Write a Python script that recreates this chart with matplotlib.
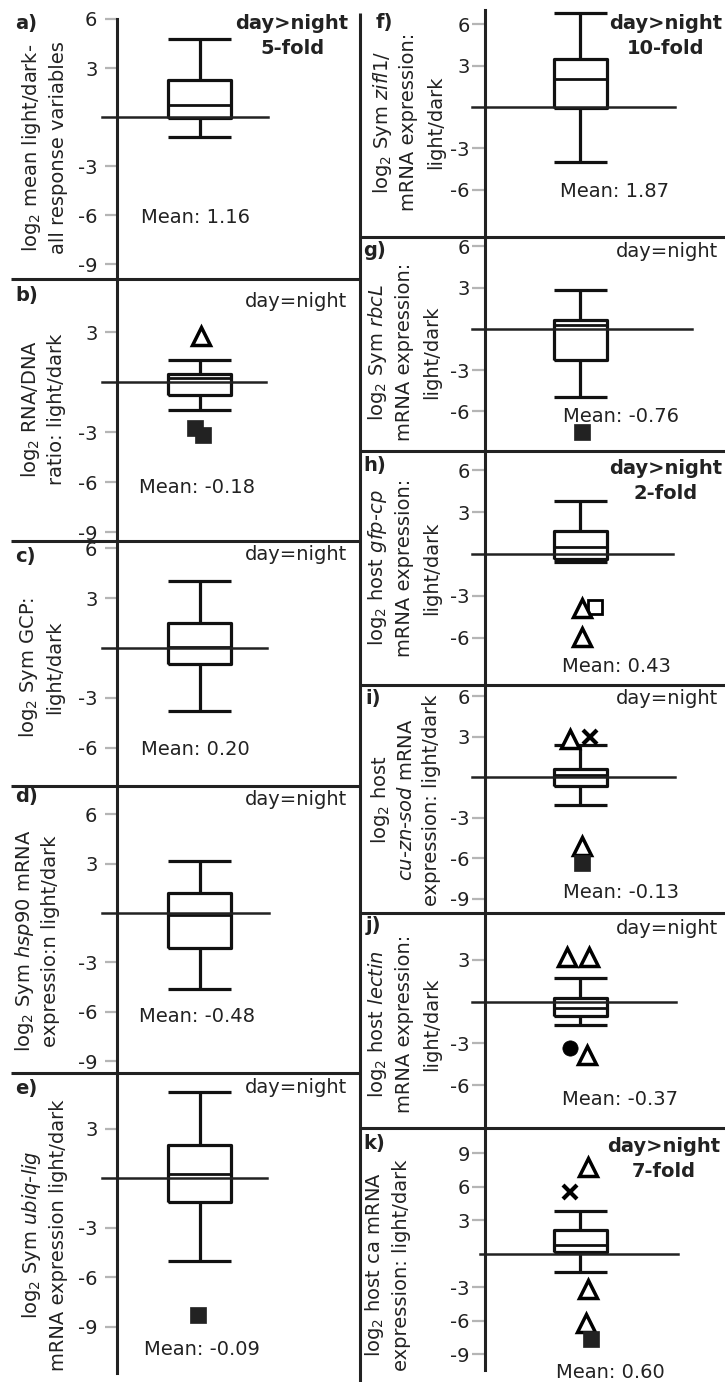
import matplotlib
matplotlib.use('Agg')
import matplotlib.pyplot as plt
from matplotlib.lines import Line2D

plt.rcParams['font.family'] = ['DejaVu Sans']
plt.rcParams['axes.unicode_minus'] = False
plt.rcParams['mathtext.fontset'] = 'dejavusans'

# ---------------- data ----------------
panels = ['a', 'b', 'c', 'd', 'e', 'f', 'g', 'h', 'i', 'j', 'k']
whishi = [4.75, 1.32, 4.04, 3.15, 5.2, 6.8, 2.8, 3.76, 2.4, 1.73, 3.79]
q3 = [2.3, 0.46, 1.51, 1.21, 2.0, 3.5, 0.62, 1.61, 0.6, 0.29, 2.09]
medians = [0.73, 0.26, 0.06, -0.1, 0.22, 2.04, 0.31, 0.48, 0.16, -0.45, 0.75]
q1 = [-0.05, -0.78, -0.96, -2.12, -1.44, -0.07, -2.3, -0.36, -0.6, -1.03, 0.15]
whislo = [-1.2, -1.68, -3.8, -4.6, -5.0, -4.0, -4.93, -0.6, -2.04, -1.68, -1.65]
mean_labels = ['1.16', '-0.18', '0.20', '-0.48', '-0.09', '1.87', '-0.76',
               '0.43', '-0.13', '-0.37', '0.60']
outlier_values = [[], [2.76, -2.73, -3.18], [], [], [-8.3], [], [-7.54],
                  [-3.8, -3.87, -5.95], [2.84, 3.0, -5.1, -6.35],
                  [3.24, 3.24, -3.3, -3.83], [7.76, 5.51, -3.21, -6.2, -7.69]]
outlier_kinds = [[], ['tri', 'sq', 'sq'], [], [], ['sq'], [], ['sq'],
                 ['osq', 'tri', 'tri'], ['tri', 'x', 'tri', 'sq'],
                 ['tri', 'tri', 'dot', 'tri'], ['tri', 'x', 'tri', 'tri', 'sq']]
verdicts = ['day>night\n5-fold', 'day=night', 'day=night', 'day=night', 'day=night',
            'day>night\n10-fold', 'day=night', 'day>night\n2-fold', 'day=night',
            'day=night', 'day>night\n7-fold']
ylabels = [
    'log$_2$ mean light/dark-\nall response variables',
    'log$_2$ RNA/DNA\nratio: light/dark',
    'log$_2$ Sym GCP:\nlight/dark',
    'log$_2$ Sym $\\mathit{hsp90}$ mRNA\nexpressio:n light/dark',
    'log$_2$ Sym $\\mathit{ubiq}$-$\\mathit{lig}$\nmRNA expression light/dark',
    'log$_2$ Sym $\\mathit{zifl1}$/\nmRNA expression:\nlight/dark',
    'log$_2$ Sym $\\mathit{rbcL}$\nmRNA expression:\nlight/dark',
    'log$_2$ host $\\mathit{gfp}$-$\\mathit{cp}$\nmRNA expression:\nlight/dark',
    'log$_2$ host\n$\\mathit{cu}$-$\\mathit{zn}$-$\\mathit{sod}$ mRNA\nexpression: light/dark',
    'log$_2$ host $\\mathit{lectin}$\nmRNA expression:\nlight/dark',
    'log$_2$ host ca mRNA\nexpression: light/dark',
]
ytick_values = [[6, 3, -3, -6, -9], [3, -3, -6, -9], [6, 3, -3, -6],
                [6, 3, -3, -6, -9], [3, -3, -6, -9], [6, 3, -3, -6],
                [6, 3, -3, -6], [6, 3, -3, -6], [6, 3, -3, -6, -9],
                [3, -3, -6], [9, 6, 3, -3, -6, -9]]

# ---------------- layout (pixels) ----------------
W, H, DPI = 725, 1382, 100
panel_col = [0, 0, 0, 0, 0, 1, 1, 1, 1, 1, 1]
panel_top = [19, 279, 541, 786, 1073, 10, 237, 451, 685, 913, 1128]
panel_bot = [279, 541, 786, 1073, 1373, 237, 451, 685, 913, 1128, 1370]
panel_ylim = [(-9.9, 6.0), (-9.54, 6.18), (-8.31, 6.45), (-9.7, 7.7), (-11.8, 6.36),
              (-9.45, 7.05), (-8.89, 6.69), (-9.4, 7.38), (-10.04, 6.85),
              (-9.09, 6.38), (-10.43, 11.24)]
col_x0 = [116.5, 485]
col_x1 = [359, 725]
box_cx = [199.6, 580.3]
box_w = [63, 53.3]
zero_x0 = [102, 102, 102, 102, 102, 472, 472, 472, 472, 472, 480]
zero_x1 = [268, 266, 267, 269, 267, 675, 692, 673, 675, 676, 678]
outlier_dx = [[], [1, -5, 3.4], [], [], [-2], [], [1.5], [15, 2, 2],
              [-10, 10, 2, 2], [-13, 9, -10, 7], [8, -10, 8, 6, 11]]
letter_xy = [(15, 14), (15, 286), (15, 547), (15, 787), (15, 1079),
             (376, 13), (363, 241), (363, 456), (365, 689), (366, 916), (363, 1134)]
ylabel_xy = [(45, 148), (44, 409), (42, 667), (38, 941), (45, 1235),
             (409, 122), (405, 352), (405, 568), (406, 800), (405, 1024), (388, 1265)]
ylabel_step = [27, 26, 26, 26, 27, 27, 27, 27, 26, 27, 26]
mean_xy = [(196, 223), (197, 493), (195, 755), (197, 1022), (202, 1355),
           (615, 197), (621, 422), (616, 672), (621, 898), (620, 1105), (610, 1378)]
verdict_right = [347, 718]
verdict_bold_xy = [(292, 14), None, None, None, None, (666, 14), None, (666, 459),
                   None, None, (664, 1137)]
verdict_plain_y = [None, 307, 560, 805, 1093, None, 257, None, 704, 934, None]
tick_len = [8.3, 9.5]
tick_pad = [5.4, 1.5]

FS = 14
LW = 2.3


def fx(px):
    return px / W


def fy(py):
    return 1 - py / H


marker_style = {
    'tri': dict(marker='^', ms=13.5, mfc='white', mec='black', mew=2.5),
    'sq': dict(marker='s', ms=11.5, mfc='#222222', mec='#222222', mew=0.5),
    'osq': dict(marker='s', ms=10, mfc='white', mec='black', mew=2.0),
    'x': dict(marker='x', ms=10, mec='black', mew=3.0),
    'dot': dict(marker='o', ms=11, mfc='black', mec='black', mew=0.5),
}

fig = plt.figure(figsize=(W / DPI, H / DPI), dpi=DPI)

for i, p in enumerate(panels):
    c = panel_col[i]
    x0, x1 = col_x0[c], col_x1[c]
    top, bot = panel_top[i], panel_bot[i]
    ax = fig.add_axes([fx(x0), fy(bot), fx(x1 - x0), (bot - top) / H])
    ax.set_xlim(x0, x1)
    ax.set_ylim(*panel_ylim[i])
    ax.patch.set_alpha(0)
    for s in ['top', 'right', 'bottom']:
        ax.spines[s].set_visible(False)
    ax.spines['left'].set_linewidth(2.2)
    ax.spines['left'].set_color('#222222')
    ax.xaxis.set_visible(False)
    ax.set_yticks(ytick_values[i])
    ax.set_yticklabels([str(v) for v in ytick_values[i]])
    ax.tick_params(axis='y', direction='out', length=tick_len[c], width=1.6,
                   color='#b5b5b5', pad=tick_pad[c], labelsize=FS, labelcolor='#222222')

    stats = [dict(med=medians[i], q1=q1[i], q3=q3[i], whislo=whislo[i],
                  whishi=whishi[i], fliers=[])]
    lp = dict(color='#111111', linewidth=LW, solid_capstyle='butt')
    ax.bxp(stats, positions=[box_cx[c]], widths=[box_w[c]], capwidths=[box_w[c]],
           showfliers=False, manage_ticks=False,
           boxprops=lp, whiskerprops=lp, capprops=lp,
           medianprops=dict(color='#111111', linewidth=2.0))
    ax.plot([zero_x0[i], zero_x1[i]], [0, 0], color='#222222', lw=1.8,
            clip_on=False, zorder=3)

    for v, k, dx in zip(outlier_values[i], outlier_kinds[i], outlier_dx[i]):
        ax.plot([box_cx[c] + dx], [v], linestyle='none', clip_on=False,
                zorder=5, **marker_style[k])

    # texts
    lx, ly = letter_xy[i]
    fig.text(fx(lx), fy(ly), p + ')', fontsize=FS, fontweight='bold',
             ha='left', va='top', color='#222222')
    yx, yy = ylabel_xy[i]
    lines = ylabels[i].split('\n')
    n = len(lines)
    for j, line in enumerate(lines):
        lxj = yx + (j - (n - 1) / 2) * ylabel_step[i]
        fig.text(fx(lxj), fy(yy), line, fontsize=FS, rotation=90,
                 ha='center', va='center', color='#222222')
    mx, my = mean_xy[i]
    fig.text(fx(mx), fy(my), 'Mean: ' + mean_labels[i], fontsize=FS,
             ha='center', va='baseline', color='#222222')
    if verdict_bold_xy[i] is not None:
        vx, vy = verdict_bold_xy[i]
        fig.text(fx(vx), fy(vy), verdicts[i], fontsize=FS, fontweight='bold',
                 ha='center', va='top', multialignment='center',
                 linespacing=1.4, color='#222222')
    else:
        fig.text(fx(verdict_right[c]), fy(verdict_plain_y[i]), verdicts[i],
                 fontsize=FS, ha='right', va='baseline', color='#222222')

# separators and column divider
sep_kw = dict(color='#222222', lw=2.2, solid_capstyle='butt')
for i in range(len(panels) - 1):
    if panel_col[i] != panel_col[i + 1]:
        continue
    y = panel_bot[i]
    if panel_col[i] == 0:
        xa, xb = 11, 360
    else:
        xa, xb = 360, 725
    fig.add_artist(Line2D([fx(xa), fx(xb)], [fy(y), fy(y)],
                          transform=fig.transFigure, **sep_kw))
fig.add_artist(Line2D([fx(360), fx(360)], [fy(13), fy(1382)],
                      transform=fig.transFigure, **sep_kw))

fig.savefig('out.png', dpi=DPI)
